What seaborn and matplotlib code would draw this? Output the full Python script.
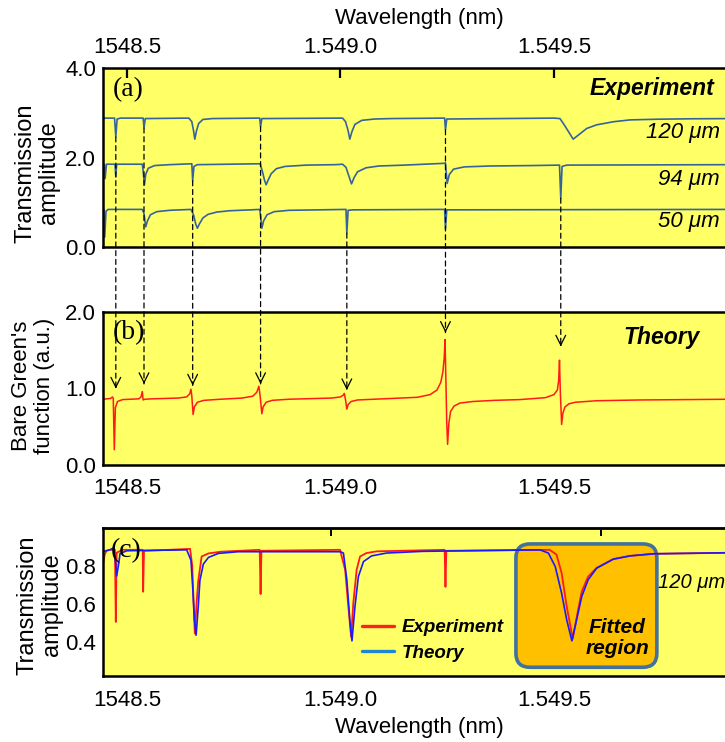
import matplotlib
matplotlib.use("Agg")
import matplotlib.pyplot as plt
import seaborn as sns
from matplotlib.patches import ConnectionPatch, FancyBboxPatch
from matplotlib.lines import Line2D

# ---------------- data (wavelength in nm) ----------------
x_ticks = [1548.5, 1549.0, 1549.5]
x_ticklabels = ["1548.5", "1.549.0", "1.549.5"]
x_lim = (1548.444, 1549.924)

# (a) measured transmission for three ring lengths (offset vertically)
exp120_x = [1548.444, 1548.471, 1548.474, 1548.477, 1548.485, 1548.538, 1548.540, 1548.543,
            1548.645, 1548.652, 1548.656, 1548.659, 1548.663, 1548.668, 1548.678, 1548.700,
            1548.811, 1548.813, 1548.816, 1549.005, 1549.012, 1549.018, 1549.022, 1549.027,
            1549.034, 1549.050, 1549.080, 1549.120, 1549.244, 1549.246, 1549.249, 1549.500,
            1549.514, 1549.522, 1549.534, 1549.545, 1549.557, 1549.577, 1549.600, 1549.640,
            1549.678, 1549.740, 1549.820, 1549.924]
exp120_y = [2.88, 2.88, 2.46, 2.86, 2.88, 2.88, 2.66, 2.87,
            2.88, 2.80, 2.60, 2.41, 2.60, 2.76, 2.85, 2.87,
            2.88, 2.69, 2.87, 2.88, 2.80, 2.60, 2.41, 2.58,
            2.74, 2.83, 2.86, 2.87, 2.88, 2.62, 2.86, 2.88,
            2.87, 2.76, 2.58, 2.41, 2.50, 2.65, 2.73, 2.80,
            2.84, 2.855, 2.865, 2.87]

exp94_x = [1548.444, 1548.447, 1548.449, 1548.452, 1548.472, 1548.474, 1548.476, 1548.536,
           1548.538, 1548.541, 1548.544, 1548.550, 1548.565, 1548.600, 1548.652, 1548.654,
           1548.657, 1548.665, 1548.812, 1548.817, 1548.822, 1548.826, 1548.831, 1548.838,
           1548.850, 1548.870, 1548.920, 1548.990, 1549.005, 1549.013, 1549.020, 1549.026,
           1549.032, 1549.040, 1549.060, 1549.090, 1549.150, 1549.243, 1549.246, 1549.250,
           1549.255, 1549.265, 1549.290, 1549.350, 1549.450, 1549.513, 1549.516, 1549.519,
           1549.530, 1549.924]
exp94_y = [1.85, 1.85, 1.53, 1.85, 1.85, 1.57, 1.85, 1.85,
           1.70, 1.39, 1.62, 1.76, 1.82, 1.84, 1.86, 1.48,
           1.80, 1.84, 1.86, 1.70, 1.50, 1.39, 1.50, 1.64,
           1.75, 1.80, 1.83, 1.84, 1.85, 1.78, 1.58, 1.41,
           1.55, 1.68, 1.77, 1.81, 1.83, 1.87, 1.88, 1.42,
           1.62, 1.74, 1.79, 1.81, 1.82, 1.83, 1.09, 1.80,
           1.83, 1.84]

exp50_x = [1548.444, 1548.446, 1548.448, 1548.451, 1548.456, 1548.536, 1548.540, 1548.544,
           1548.548, 1548.555, 1548.570, 1548.600, 1548.650, 1548.656, 1548.661, 1548.665,
           1548.670, 1548.678, 1548.690, 1548.710, 1548.740, 1548.790, 1548.811, 1548.813,
           1548.816, 1548.820, 1548.828, 1548.845, 1548.880, 1548.950, 1549.013, 1549.015,
           1549.018, 1549.030, 1549.244, 1549.246, 1549.249, 1549.924]
exp50_y = [0.84, 0.84, 0.22, 0.80, 0.84, 0.84, 0.75, 0.45,
           0.58, 0.72, 0.79, 0.82, 0.84, 0.72, 0.52, 0.42,
           0.52, 0.65, 0.73, 0.78, 0.81, 0.83, 0.84, 0.70,
           0.42, 0.58, 0.72, 0.79, 0.82, 0.83, 0.84, 0.31,
           0.82, 0.83, 0.84, 0.40, 0.83, 0.84]

# (b) bare Green's function (theory)
green_x = [1548.444, 1548.462, 1548.466, 1548.468, 1548.4705, 1548.473, 1548.478, 1548.490,
           1548.528, 1548.533, 1548.536, 1548.538, 1548.542, 1548.560, 1548.620, 1548.640,
           1548.647, 1548.650, 1548.652, 1548.655, 1548.658, 1548.665, 1548.680, 1548.720,
           1548.770, 1548.795, 1548.804, 1548.809, 1548.812, 1548.816, 1548.819, 1548.826,
           1548.840, 1548.880, 1548.980, 1549.000, 1549.006, 1549.009, 1549.012, 1549.015,
           1549.018, 1549.025, 1549.040, 1549.080, 1549.120, 1549.180, 1549.210, 1549.226,
           1549.235, 1549.240, 1549.243, 1549.245, 1549.247, 1549.249, 1549.251, 1549.254,
           1549.258, 1549.266, 1549.280, 1549.310, 1549.360, 1549.420, 1549.480, 1549.500,
           1549.508, 1549.511, 1549.513, 1549.515, 1549.518, 1549.521, 1549.526, 1549.535,
           1549.550, 1549.600, 1549.700, 1549.924]
green_y = [0.86, 0.87, 0.89, 0.87, 0.20, 0.75, 0.83, 0.855,
           0.865, 0.89, 0.96, 0.85, 0.86, 0.865, 0.875, 0.89,
           0.93, 0.99, 0.90, 0.66, 0.76, 0.82, 0.845, 0.86,
           0.875, 0.90, 0.95, 1.03, 0.90, 0.67, 0.76, 0.82,
           0.845, 0.86, 0.875, 0.89, 0.91, 0.935, 0.85, 0.73,
           0.79, 0.83, 0.85, 0.86, 0.87, 0.885, 0.92, 0.98,
           1.08, 1.22, 1.40, 1.64, 1.10, 0.55, 0.27, 0.55,
           0.70, 0.77, 0.81, 0.83, 0.845, 0.855, 0.88, 0.92,
           0.98, 1.10, 1.37, 0.95, 0.53, 0.68, 0.76, 0.80,
           0.82, 0.84, 0.85, 0.86]

# (c) 120 um ring: experiment vs fitted theory
fitexp_x = [1548.444, 1548.448, 1548.452, 1548.460, 1548.472, 1548.474, 1548.476, 1548.490,
            1548.537, 1548.538, 1548.540, 1548.600, 1548.648, 1548.653, 1548.656, 1548.659,
            1548.663, 1548.667, 1548.675, 1548.691, 1548.720, 1548.811, 1548.813, 1548.815,
            1548.999, 1549.011, 1549.018, 1549.025, 1549.030, 1549.038, 1549.046, 1549.061,
            1549.085, 1549.244, 1549.246, 1549.248, 1549.490, 1549.506, 1549.518, 1549.530,
            1549.544, 1549.555, 1549.565, 1549.580, 1549.600, 1549.639, 1549.678, 1549.733,
            1549.924]
fitexp_y = [0.81, 0.86, 0.88, 0.885, 0.885, 0.505, 0.87, 0.885,
            0.885, 0.664, 0.88, 0.885, 0.89, 0.80, 0.62, 0.444,
            0.60, 0.72, 0.85, 0.866, 0.875, 0.885, 0.652, 0.88,
            0.885, 0.78, 0.60, 0.426, 0.60, 0.78, 0.85, 0.868,
            0.877, 0.885, 0.69, 0.88, 0.885, 0.86, 0.762, 0.585,
            0.417, 0.55, 0.665, 0.744, 0.79, 0.836, 0.853, 0.864,
            0.87]
fitth_x = [1548.444, 1548.460, 1548.468, 1548.472, 1548.476, 1548.480, 1548.484, 1548.500,
           1548.640, 1548.650, 1548.654, 1548.658, 1548.662, 1548.667, 1548.671, 1548.679,
           1548.691, 1548.714, 1548.760, 1549.000, 1549.007, 1549.015, 1549.022, 1549.027,
           1549.034, 1549.042, 1549.054, 1549.073, 1549.108, 1549.193, 1549.467, 1549.487,
           1549.503, 1549.518, 1549.530, 1549.542, 1549.553, 1549.565, 1549.580, 1549.600,
           1549.639, 1549.678, 1549.733, 1549.924]
fitth_y = [0.876, 0.885, 0.894, 0.85, 0.747, 0.80, 0.866, 0.88,
           0.885, 0.83, 0.69, 0.52, 0.435, 0.585, 0.725, 0.81,
           0.845, 0.866, 0.875, 0.875, 0.868, 0.727, 0.515, 0.405,
           0.585, 0.744, 0.823, 0.853, 0.868, 0.877, 0.885, 0.868,
           0.797, 0.656, 0.515, 0.405, 0.515, 0.638, 0.727, 0.788,
           0.836, 0.853, 0.864, 0.87]

# dashed guides from (a) resonances down to (b)
arrow_x = [1548.474, 1548.540, 1548.654, 1548.813, 1549.015, 1549.246, 1549.516]
arrow_from = [2.46, 2.66, 1.48, 2.69, 0.31, 2.62, 1.09]
arrow_to = [1.00, 1.06, 1.04, 1.06, 0.98, 1.73, 1.55]

# fitted region (data coords in panel c)
fit_x = (1549.411, 1549.741)
fit_y = (0.266, 0.916)

# ---------------- style ----------------
sns.set_style("white")
plt.rcParams["font.family"] = ["Liberation Sans", "DejaVu Sans"]
plt.rcParams["axes.linewidth"] = 1.8
plt.rcParams["text.color"] = "black"
plt.rcParams["xtick.color"] = "black"
plt.rcParams["ytick.color"] = "black"
plt.rcParams["axes.labelcolor"] = "black"

YELLOW = "#FFFF66"
BLUE_A = "#35649c"
RED = "#FF1A1A"
BLUE = "#1A1AFF"

W, H = 725, 742
fig = plt.figure(figsize=(W / 100, H / 100), dpi=100)


def box(l, t, r, b):
    return [l / W, 1 - b / H, (r - l) / W, (b - t) / H]


ax_a = fig.add_axes(box(103, 68, 735, 247))
ax_b = fig.add_axes(box(103, 312, 735, 465))
ax_c = fig.add_axes(box(103, 528, 735, 676))

for ax in (ax_a, ax_b, ax_c):
    ax.set_facecolor(YELLOW)
    ax.set_xlim(*x_lim)
    ax.set_xticks(x_ticks, x_ticklabels)
    ax.tick_params(direction="in", length=7, width=1.6, labelsize=16,
                   color="k", labelcolor="k")
    for s in ax.spines.values():
        s.set_color("k")

# ---- (a) experiment ----
sns.lineplot(x=exp120_x, y=exp120_y, ax=ax_a, color=BLUE_A, lw=1.2)
sns.lineplot(x=exp94_x, y=exp94_y, ax=ax_a, color=BLUE_A, lw=1.2)
sns.lineplot(x=exp50_x, y=exp50_y, ax=ax_a, color=BLUE_A, lw=1.2)
ax_a.set_ylim(0, 4)
ax_a.set_yticks([0, 2, 4], ["0.0", "2.0", "4.0"])
ax_a.tick_params(axis="x", top=True, bottom=False, labeltop=True, labelbottom=False, pad=7)
ax_a.tick_params(axis="y", pad=5)
ax_a.text(1549.875, 3.55, "Experiment", ha="right", va="center", fontsize=16.5,
          weight="bold", style="italic")
for lab, yy in [("120 μm", 2.55), ("94 μm", 1.50), ("50 μm", 0.56)]:
    ax_a.text(1549.889, yy, lab, ha="right", va="center", fontsize=16, style="italic")
ax_a.text(0.016, 0.877, "(a)", transform=ax_a.transAxes, ha="left", va="center",
          fontsize=20, family="Liberation Serif")
ax_a.text(0.5, 1.279, "Wavelength (nm)", transform=ax_a.transAxes, ha="center",
          va="center", fontsize=16)
ax_a.text(-0.104, 0.413, "Transmission\namplitude", transform=ax_a.transAxes,
          rotation=90, ha="center", va="center", fontsize=17, linespacing=1.1)

# ---- (b) theory ----
sns.lineplot(x=green_x, y=green_y, ax=ax_b, color=RED, lw=1.1)
ax_b.set_ylim(0, 2)
ax_b.set_yticks([0, 1, 2], ["0.0", "1.0", "2.0"])
ax_b.tick_params(axis="x", pad=9)
ax_b.tick_params(axis="y", pad=5)
ax_b.text(1549.842, 1.67, "Theory", ha="right", va="center", fontsize=16.5,
          weight="bold", style="italic")
ax_b.text(0.016, 0.863, "(b)", transform=ax_b.transAxes, ha="left", va="center",
          fontsize=20, family="Liberation Serif")
ax_b.text(-0.111, 0.52, "Bare Green's\nfunction (a.u.)", transform=ax_b.transAxes,
          rotation=90, ha="center", va="center", fontsize=16, linespacing=1.1)

# ---- (c) fit ----
sns.lineplot(x=fitexp_x, y=fitexp_y, ax=ax_c, color=RED, lw=1.3)
sns.lineplot(x=fitth_x, y=fitth_y, ax=ax_c, color=BLUE, lw=1.2)
ax_c.set_ylim(0.22, 1.0)
ax_c.set_yticks([0.4, 0.6, 0.8], ["0.4", "0.6", "0.8"])
ax_c.tick_params(axis="x", pad=10)
ax_c.tick_params(axis="y", pad=5)
sec = ax_c.secondary_xaxis("top")
sec.set_xticks([1548.979, 1549.610], ["", ""])
sec.tick_params(direction="in", length=6, width=1.4, color="k")

p0 = ax_c.transData.transform((fit_x[0], fit_y[0]))
p1 = ax_c.transData.transform((fit_x[1], fit_y[1]))
inv = fig.dpi_scale_trans.inverted()
(bx0, by0), (bx1, by1) = inv.transform(p0), inv.transform(p1)
fit_box = FancyBboxPatch((bx0, by0), bx1 - bx0, by1 - by0,
                         boxstyle="round,pad=0,rounding_size=0.14",
                         transform=fig.dpi_scale_trans, fc="#FFC000", ec="#41719C",
                         lw=2.6, zorder=1.5)
ax_c.add_patch(fit_box)
ax_c.text(1549.648, 0.42, "Fitted\nregion", ha="center", va="center", fontsize=15,
          weight="bold", style="italic", linespacing=1.15, zorder=3)
ax_c.text(1549.743, 0.715, "120 μm", ha="left", va="center", fontsize=14.5,
          style="italic", zorder=3)
ax_c.text(0.012, 0.85, "(c)", transform=ax_c.transAxes, ha="left", va="center",
          fontsize=20, family="Liberation Serif", zorder=3)
ax_c.text(0.5, -0.345, "Wavelength (nm)", transform=ax_c.transAxes, ha="center",
          va="center", fontsize=16)
ax_c.text(-0.100, 0.48, "Transmission\namplitude", transform=ax_c.transAxes,
          rotation=90, ha="center", va="center", fontsize=17, linespacing=1.1)

handles = [Line2D([], [], color="#FF2020", lw=2.4),
           Line2D([], [], color="#1F86D0", lw=2.4)]
ax_c.legend(handles, ["Experiment", "Theory"], loc="upper left",
            bbox_to_anchor=(0.41, 0.385), frameon=False, handlelength=1.7,
            handletextpad=0.4, labelspacing=0.45, borderpad=0, borderaxespad=0,
            prop=dict(size=13.5, weight="bold", style="italic"))

for ax in (ax_a, ax_b, ax_c):
    ax.set_xlabel("")
    ax.set_ylabel("")

# dashed guides with open arrow heads
for x, ya, yb in zip(arrow_x, arrow_from, arrow_to):
    con = ConnectionPatch(xyA=(x, ya), coordsA=ax_a.transData,
                          xyB=(x, yb), coordsB=ax_b.transData,
                          color="k", lw=0.9, linestyle=(0, (4, 3)))
    fig.add_artist(con)
    ax_b.annotate("", xy=(x, yb), xytext=(x, yb + 0.03),
                  arrowprops=dict(arrowstyle="->,head_length=0.7,head_width=0.35",
                                  color="k", lw=0.9, shrinkA=0, shrinkB=0,
                                  mutation_scale=10))

fig.savefig("out.png", dpi=100)
